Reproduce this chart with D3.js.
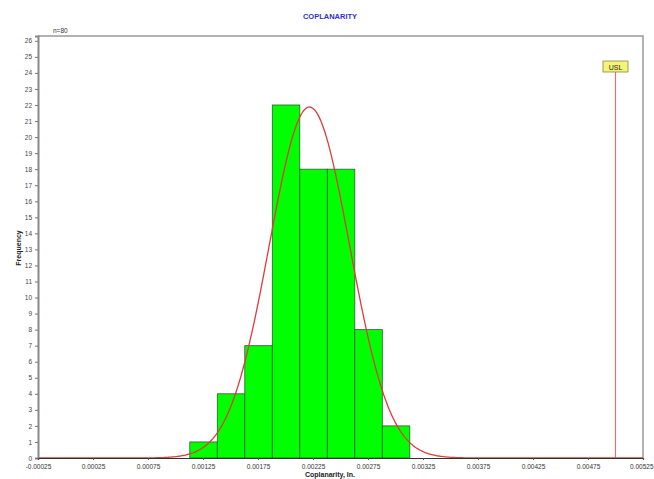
<!DOCTYPE html>
<html>
<head>
<meta charset="utf-8">
<script src="https://cdn.jsdelivr.net/npm/d3@7"></script>
<style>
  html, body { margin: 0; padding: 0; background: #fff; }
  svg { display: block; font-family: Arial, "Liberation Sans", sans-serif; }
</style>
</head>
<body>
<svg id="chart" width="654" height="479"></svg>
<script>
// Histogram bins (lower edges, inches) and counts
const binStarts = [0.00113, 0.00138, 0.00163, 0.00188, 0.00213, 0.00238, 0.00263, 0.00288];
const binWidth = 0.00025;
const counts = [1, 4, 7, 22, 18, 18, 8, 2];
const xTicks = [-0.00025, 0.00025, 0.00075, 0.00125, 0.00175, 0.00225, 0.00275, 0.00325, 0.00375, 0.00425, 0.00475, 0.00525];
const yTicks = d3.range(0, 27);
const usl = 0.005;

const svg = d3.select("#chart");
const plotLeft = 38, plotRight = 643, plotTop = 36, plotBottom = 458;
const fontFamily = "Arial, 'Liberation Sans', sans-serif";

const x = d3.scaleLinear().domain([-0.00025, 0.00525]).range([plotLeft, plotRight]);
const y = d3.scaleLinear().domain([0, 26.3]).range([plotBottom, plotTop]);

// Normal fit from the binned data
const n = d3.sum(counts);
const mids = binStarts.map(s => s + binWidth / 2);
const mean = d3.sum(mids, (m, i) => m * counts[i]) / n;
const sd = Math.sqrt(d3.sum(mids, (m, i) => counts[i] * (m - mean) ** 2) / (n - 1));
const fit = v => n * binWidth * Math.exp(-0.5 * ((v - mean) / sd) ** 2) / (sd * Math.sqrt(2 * Math.PI));

// Title
svg.append("text").attr("x", 330).attr("y", 19).attr("text-anchor", "middle")
  .attr("font-size", 7.5).attr("font-weight", "bold").attr("fill", "#3030d0").text("COPLANARITY");

// Plot frame (top / right in gray)
svg.append("path")
  .attr("d", `M${plotLeft},${plotTop}H${plotRight}V${plotBottom}`)
  .attr("fill", "none").attr("stroke", "#999").attr("stroke-width", 1.5);

svg.append("text").attr("x", 53).attr("y", 33).attr("font-size", 6.5).attr("fill", "#333").text("n=" + n);

// Bars
svg.append("g").selectAll("rect").data(counts).join("rect")
  .attr("x", (d, i) => x(binStarts[i]))
  .attr("width", (d, i) => x(binStarts[i] + binWidth) - x(binStarts[i]))
  .attr("y", d => y(d))
  .attr("height", d => y(0) - y(d))
  .attr("fill", "#00ff00").attr("stroke", "#2f5a2f").attr("stroke-width", 0.8);

// USL line and label
svg.append("line").attr("x1", x(usl)).attr("x2", x(usl)).attr("y1", 72).attr("y2", plotBottom)
  .attr("stroke", "#f26a6a").attr("stroke-width", 1.1);
svg.append("rect").attr("x", x(usl) - 12.5).attr("y", 61).attr("width", 25).attr("height", 11)
  .attr("fill", "#f4f47a").attr("stroke", "#888840").attr("stroke-width", 0.8);
svg.append("text").attr("x", x(usl)).attr("y", 69.5).attr("text-anchor", "middle")
  .attr("font-size", 7).attr("fill", "#222").text("USL");

// Normal curve
const curvePts = d3.range(-0.00025, 0.005251, 0.00001).map(v => [v, fit(v)]);
svg.append("path").datum(curvePts)
  .attr("d", d3.line().x(d => x(d[0])).y(d => y(d[1])))
  .attr("fill", "none").attr("stroke", "#e03a3a").attr("stroke-width", 1.3);

// Y axis
const yAxis = svg.append("g").attr("transform", `translate(${plotLeft},0)`)
  .call(d3.axisLeft(y).tickValues(yTicks).tickSize(3).tickFormat(d3.format("d")));
yAxis.select(".domain").attr("stroke", "#888").attr("stroke-width", 2);
yAxis.selectAll(".tick line").attr("stroke", "#777");
yAxis.selectAll("text").attr("font-size", 6.5).attr("fill", "#444").attr("font-family", fontFamily);

// X axis
const xAxis = svg.append("g").attr("transform", `translate(0,${plotBottom})`)
  .call(d3.axisBottom(x).tickValues(xTicks).tickSize(2).tickFormat(d => d.toFixed(5)));
xAxis.select(".domain").attr("stroke", "#333").attr("stroke-width", 1.2);
xAxis.selectAll(".tick line").attr("stroke", "#555");
xAxis.selectAll("text").attr("font-size", 6.5).attr("fill", "#333").attr("dy", "0.9em")
  .attr("font-family", fontFamily);
// keep the last tick label inside the window edge
xAxis.selectAll(".tick").filter((d, i, nodes) => i === nodes.length - 1)
  .select("text").attr("text-anchor", "end").attr("x", 10);

// Axis titles
svg.append("text").attr("x", 330).attr("y", 477).attr("text-anchor", "middle")
  .attr("font-size", 7).attr("font-weight", "bold").attr("fill", "#222").text("Coplanarity, In.");
svg.append("text").attr("transform", "translate(21,248) rotate(-90)").attr("text-anchor", "middle")
  .attr("font-size", 7).attr("font-weight", "bold").attr("fill", "#222").text("Frequency");
</script>
</body>
</html>
